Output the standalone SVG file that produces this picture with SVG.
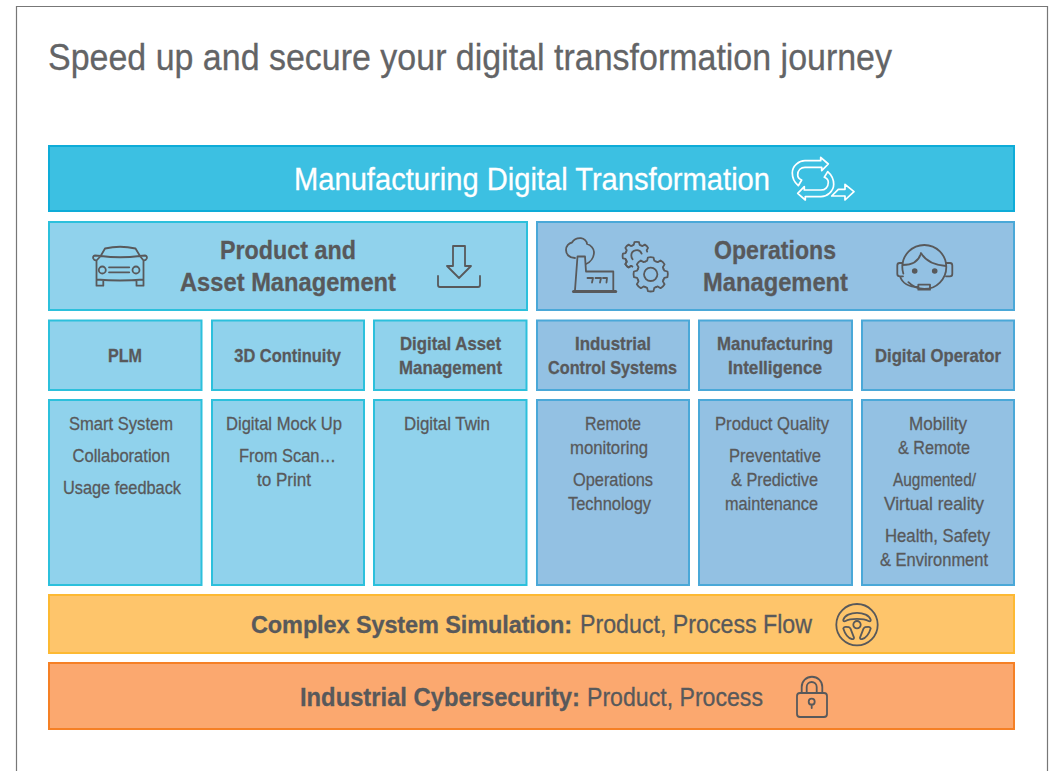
<svg xmlns="http://www.w3.org/2000/svg" width="1053" height="771" viewBox="0 0 1053 771">
<style>
text{font-family:"Liberation Sans",Arial,sans-serif;fill:#58595b;stroke:#58595b;stroke-width:.3}
.b{font-weight:700}
.t17{font-size:18.5px}
.t25{font-size:26px}
rect.blue{fill:#90d2ec;stroke:#2cc0dc;stroke-width:2}
rect.ops{fill:#93c1e3;stroke:#4aa8d8;stroke-width:2}
.ic{fill:none;stroke:#58595b;stroke-width:1.8;stroke-linejoin:round;stroke-linecap:round}
.icw{fill:none;stroke:#fff;stroke-width:1.7;stroke-linejoin:round;stroke-linecap:round}
</style>
<defs>
<path id="tooth" d="M-5.300-12.800L-3.600-13.600L-2.800-16.800Q0-17.600 2.800-16.800L3.600-13.600L5.300-12.800"/>
<path id="loop" d="M798.300 185.700C794 182 792.300 177 792.300 173C792.300 166 799 160.700 805 160.700H820.700V157.300L828.300 164L821.700 170.700V167.300H805C801 167.300 797.700 170 797.700 175C797.700 177 799 179 801.700 180Z"/>
</defs>
<rect width="1053" height="771" fill="#fff"/>
<path d="M16.500 771V6.500H1047.500V771" fill="none" stroke="#777" stroke-width="1.200"/>
<text id="title" x="48" y="69.500" font-size="37.500" textLength="844" lengthAdjust="spacingAndGlyphs" style="fill:#636466;stroke:#636466">Speed up and secure your digital transformation journey</text>

<g id="mdt">
<rect x="49" y="146" width="965" height="65" fill="#3cc0e2" stroke="#0eacd8" stroke-width="2"/>
<text x="294" y="190" font-size="32" textLength="476" lengthAdjust="spacingAndGlyphs" style="fill:#fff;stroke:#fff">Manufacturing Digital Transformation</text>
<g class="icw">
<use href="#loop"/>
<use href="#loop" transform="rotate(180 813 178.650)"/>
<path d="M831.700 196L838.300 189.300H845V184.300L854 191.700L845 200V196Z"/>
</g>
</g>

<g id="pam">
<rect class="blue" x="49" y="222" width="478" height="88"/>
<text class="b t25" x="220" y="259" textLength="136" lengthAdjust="spacingAndGlyphs">Product and</text>
<text class="b t25" x="180" y="291" textLength="216" lengthAdjust="spacingAndGlyphs">Asset Management</text>
<g class="ic">
<path d="M100.700 256L105 248.500Q120 245 135.500 248.500L140 256Q120 258.500 100.700 256ZM100.700 256L95 255.500Q92.500 256 93.300 258.500Q94 260.500 96.500 260.500L100.700 256M140 256L145 255.500Q147.500 256 146.700 258.500Q146 260.500 143.500 260.500L140 256M96.500 260.500V280M143.500 260.500V280M96.500 279.500Q120 281.500 143.500 279.500M96.500 280V285.700H103.300V280.500M136.500 280.500V285.700H143.500V280M109 267.300H129.300M109 272.300H129.300"/>
<circle cx="102.300" cy="270" r="3.500"/><circle cx="136" cy="270" r="3.500"/>
<path d="M453 246H465V266H471L459 278L447 266H453ZM438 276V285Q438 287 440 287H478Q480 287 480 285V276"/>
</g>
</g>

<g id="opm">
<rect class="ops" x="537" y="222" width="477" height="88"/>
<text class="b t25" x="714" y="259" textLength="122" lengthAdjust="spacingAndGlyphs">Operations</text>
<text class="b t25" x="703" y="291" textLength="145" lengthAdjust="spacingAndGlyphs">Management</text>
<g class="ic">
<path d="M575 290L577.500 256.500H585L586 271.500H613.300V290"/>
<path d="M573.500 291.500H615.700" style="stroke-width:3"/>
<path d="M587.500 278H593L592 282.500M595.500 278H601L600 282.500M603 278H607L606.500 282.500"/>
<path d="M575 258C569 258 566 254 566 250C566 246 569 243 572 242.500C574 239 578 238 581 238.200C584 238.500 587 241 587 244C591 245 594 249 594 252C594 257 591 262 586 264"/>
<g transform="translate(650.700 274.300)">
<use href="#tooth"/><use href="#tooth" transform="rotate(45)"/><use href="#tooth" transform="rotate(90)"/><use href="#tooth" transform="rotate(135)"/><use href="#tooth" transform="rotate(180)"/><use href="#tooth" transform="rotate(225)"/><use href="#tooth" transform="rotate(270)"/><use href="#tooth" transform="rotate(315)"/>
<circle r="6.700"/>
</g>
<g transform="translate(636.700 256) scale(.82)" style="stroke-width:2.200">
<use href="#tooth" transform="rotate(-135)"/><use href="#tooth" transform="rotate(-90)"/><use href="#tooth" transform="rotate(-45)"/><use href="#tooth"/><use href="#tooth" transform="rotate(45)"/><use href="#tooth" transform="rotate(225)"/>
<path d="M6-3A6.500 6.500 0 0 0-6.500 0Q-6.500 2-5 4"/>
</g>
<circle cx="924.300" cy="267" r="22" stroke-dasharray="108 10" stroke-dashoffset="-62"/>
<path d="M902.500 265C912 265 919 261 921 253C925 260 934 265 946 266"/>
<path d="M902.500 263H899.500Q897.300 263 897.300 265.500V274Q897.300 276.300 900 276.300H903M946 263H950Q952.300 263 952.300 265.500V274Q952.300 276.300 950 276.300H946M900 276.300C902 283 909 287 918.300 287"/>
<rect x="918.300" y="284.700" width="11.700" height="5"/>
</g>
<circle cx="914.700" cy="271" r="2.800" fill="#58595b"/><circle cx="934.700" cy="271" r="2.800" fill="#58595b"/>
</g>

<g id="plm">
<rect class="blue" x="49" y="320.500" width="152.500" height="69.500"/>
<text class="b t17" x="108" y="361.500" textLength="34" lengthAdjust="spacingAndGlyphs">PLM</text>
</g>
<g id="continuity">
<rect class="blue" x="212" y="320.500" width="152" height="69.500"/>
<text class="b t17" x="234.300" y="361.500" textLength="106.700" lengthAdjust="spacingAndGlyphs">3D Continuity</text>
</g>
<g id="dam">
<rect class="blue" x="374" y="320.500" width="152.500" height="69.500"/>
<text class="b t17" x="400" y="349.500" textLength="101" lengthAdjust="spacingAndGlyphs">Digital Asset</text>
<text class="b t17" x="399" y="373.500" textLength="103" lengthAdjust="spacingAndGlyphs">Management</text>
</g>
<g id="ics">
<rect class="ops" x="537" y="320.500" width="152" height="69.500"/>
<text class="b t17" x="575" y="349.500" textLength="76" lengthAdjust="spacingAndGlyphs">Industrial</text>
<text class="b t17" x="548" y="373.500" textLength="129" lengthAdjust="spacingAndGlyphs">Control Systems</text>
</g>
<g id="mi">
<rect class="ops" x="699" y="320.500" width="153" height="69.500"/>
<text class="b t17" x="717" y="349.500" textLength="116" lengthAdjust="spacingAndGlyphs">Manufacturing</text>
<text class="b t17" x="728" y="373.500" textLength="94" lengthAdjust="spacingAndGlyphs">Intelligence</text>
</g>
<g id="dop">
<rect class="ops" x="862" y="320.500" width="152" height="69.500"/>
<text class="b t17" x="875" y="361.500" textLength="126" lengthAdjust="spacingAndGlyphs">Digital Operator</text>
</g>

<g id="plm-body">
<rect class="blue" x="49" y="400" width="152.500" height="185"/>
<text class="t17" x="69" y="430" textLength="104" lengthAdjust="spacingAndGlyphs">Smart System</text>
<text class="t17" x="72.500" y="462" textLength="97.500" lengthAdjust="spacingAndGlyphs">Collaboration</text>
<text class="t17" x="63" y="494" textLength="118" lengthAdjust="spacingAndGlyphs">Usage feedback</text>
</g>
<g id="continuity-body">
<rect class="blue" x="212" y="400" width="152" height="185"/>
<text class="t17" x="226" y="430" textLength="116" lengthAdjust="spacingAndGlyphs">Digital Mock Up</text>
<text class="t17" x="239" y="462" textLength="97" lengthAdjust="spacingAndGlyphs">From Scan…</text>
<text class="t17" x="257" y="486" textLength="54" lengthAdjust="spacingAndGlyphs">to Print</text>
</g>
<g id="dam-body">
<rect class="blue" x="374" y="400" width="152.500" height="185"/>
<text class="t17" x="404" y="430" textLength="86" lengthAdjust="spacingAndGlyphs">Digital Twin</text>
</g>
<g id="ics-body">
<rect class="ops" x="537" y="400" width="152" height="185"/>
<text class="t17" x="585" y="430" textLength="56" lengthAdjust="spacingAndGlyphs">Remote</text>
<text class="t17" x="570" y="454" textLength="78" lengthAdjust="spacingAndGlyphs">monitoring</text>
<text class="t17" x="573" y="486" textLength="80" lengthAdjust="spacingAndGlyphs">Operations</text>
<text class="t17" x="568" y="510" textLength="83" lengthAdjust="spacingAndGlyphs">Technology</text>
</g>
<g id="mi-body">
<rect class="ops" x="699" y="400" width="153" height="185"/>
<text class="t17" x="715" y="430" textLength="114" lengthAdjust="spacingAndGlyphs">Product Quality</text>
<text class="t17" x="729" y="462" textLength="92" lengthAdjust="spacingAndGlyphs">Preventative</text>
<text class="t17" x="731" y="486" textLength="87" lengthAdjust="spacingAndGlyphs">&amp; Predictive</text>
<text class="t17" x="725" y="510" textLength="93" lengthAdjust="spacingAndGlyphs">maintenance</text>
</g>
<g id="dop-body">
<rect class="ops" x="862" y="400" width="152" height="185"/>
<text class="t17" x="909" y="430" textLength="58" lengthAdjust="spacingAndGlyphs">Mobility</text>
<text class="t17" x="898" y="454" textLength="72" lengthAdjust="spacingAndGlyphs">&amp; Remote</text>
<text class="t17" x="893" y="486" textLength="83" lengthAdjust="spacingAndGlyphs">Augmented/</text>
<text class="t17" x="884" y="510" textLength="100" lengthAdjust="spacingAndGlyphs">Virtual reality</text>
<text class="t17" x="885" y="542" textLength="105" lengthAdjust="spacingAndGlyphs">Health, Safety</text>
<text class="t17" x="880" y="566" textLength="108" lengthAdjust="spacingAndGlyphs">&amp; Environment</text>
</g>

<g id="simulation">
<rect x="49" y="595" width="965" height="58" fill="#fec56b" stroke="#fdb933" stroke-width="2"/>
<text class="b" x="251" y="633" font-size="24" letter-spacing="-.1" textLength="321" lengthAdjust="spacingAndGlyphs">Complex System Simulation:</text>
<text class="t25" x="580" y="633" textLength="232" lengthAdjust="spacingAndGlyphs">Product, Process Flow</text>
<g class="ic" transform="translate(857 624.700)">
<circle r="20.700"/>
<circle r="3.700"/>
<path d="M-13.700-5C-11-14 11-14 13.700-5Q14-3 12-3.500C6-6.500-6-6.500-12-3.500Q-14-3-13.700-5Z"/>
<path d="M-13.700 3.700Q-13 2-11 2.200L-8 2.500Q-7 3-6.500 4L-3 13Q-3 14.500-5 14.500Q-11 12.500-13.700 3.700Z"/>
<path d="M13.700 3.700Q13 2 11 2.200L8 2.500Q7 3 6.500 4L3 13Q3 14.500 5 14.500Q11 12.500 13.700 3.700Z"/>
</g>
</g>

<g id="cybersecurity">
<rect x="49" y="663" width="965" height="66" fill="#fba86f" stroke="#f58025" stroke-width="2"/>
<text class="b t25" x="300" y="706" textLength="280" lengthAdjust="spacingAndGlyphs">Industrial Cybersecurity:</text>
<text class="t25" x="587" y="706" textLength="176" lengthAdjust="spacingAndGlyphs">Product, Process</text>
<g class="ic">
<rect x="797" y="693" width="30" height="24" rx="3"/>
<path d="M801.700 693V687A10.300 10.300 0 0 1 822.300 687V693M806.700 693V687A5 5 0 0 1 816.700 687V693"/>
<circle cx="811.700" cy="701.700" r="3"/>
<path d="M811.700 704.700V708"/>
</g>
</g>
</svg>
